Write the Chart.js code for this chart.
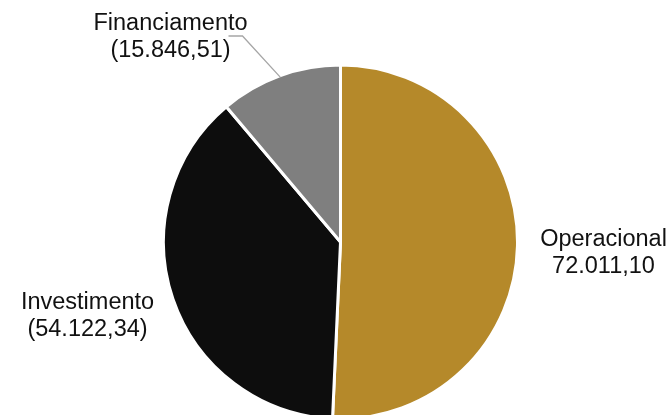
<!DOCTYPE html>
<html>
<head>
<meta charset="utf-8">
<script src="https://cdn.jsdelivr.net/npm/chart.js@4"></script>
<style>
  html, body { margin: 0; padding: 0; background: #fff; overflow: hidden; }
  #wrap { width: 666px; height: 415px; position: relative; }
</style>
</head>
<body>
<div id="wrap"><canvas id="myChart"></canvas></div>
<script>
// data for chart
const categories = ['Operacional', 'Investimento', 'Financiamento'];
const values = [72011.10, 54122.34, 15846.51];
const valueLabels = ['72.011,10', '(54.122,34)', '(15.846,51)'];
const sliceColors = ['#b5892a', '#0d0d0d', '#7f7f7f'];

// label placement, relative to pie centre (first baseline)
const labelPlace = [
    { dx: 263, dy: 4 },
    { dx: -253, dy: 67 },
    { dx: -170, dy: -212, leader: true }
];

// draws the outside labels + leader line
const outsideLabels = {
    id: 'outsideLabels',
    afterDatasetsDraw(chart) {
        const ctx = chart.ctx;
        const meta = chart.getDatasetMeta(0);
        ctx.save();
        ctx.font = '23.5px "Liberation Sans", Arial, sans-serif';
        ctx.fillStyle = '#111';
        ctx.textAlign = 'center';
        ctx.textBaseline = 'alphabetic';
        meta.data.forEach(function(arc, i) {
            const p = arc.getProps(['x', 'y', 'startAngle', 'endAngle', 'outerRadius'], true);
            const lx = p.x + labelPlace[i].dx;
            const ly = p.y + labelPlace[i].dy;
            ctx.fillText(categories[i], lx, ly);
            ctx.fillText(valueLabels[i], lx, ly + 27);
            if (labelPlace[i].leader) {
                const mid = (p.startAngle + p.endAngle) / 2;
                const r = p.outerRadius - 1.5;
                ctx.beginPath();
                ctx.strokeStyle = '#a6a6a6';
                ctx.lineWidth = 1.3;
                ctx.moveTo(lx + 58, ly + 6);
                ctx.lineTo(lx + 72, ly + 6);
                ctx.lineTo(p.x + Math.cos(mid) * r, p.y + Math.sin(mid) * r);
                ctx.stroke();
            }
        });
        ctx.restore();
    }
};

const data = {
    labels: categories,
    datasets: [{
        data: values,
        backgroundColor: sliceColors,
        borderColor: '#ffffff',
        borderWidth: 3,
        hoverOffset: 0,
        clip: false
    }]
};

const config = {
    type: 'pie',
    data: data,
    options: {
        responsive: false,
        animation: false,
        radius: 177,
        layout: {
            padding: { left: 15, right: 0, top: 69, bottom: 0 }
        },
        plugins: {
            legend: { display: false },
            title: { display: false },
            tooltip: { enabled: false }
        }
    },
    plugins: [outsideLabels]
};

const cv = document.getElementById('myChart');
cv.width = 666;
cv.height = 415;
cv.style.width = '666px';
cv.style.height = '415px';
const myChart = new Chart(cv, config);
</script>
</body>
</html>
